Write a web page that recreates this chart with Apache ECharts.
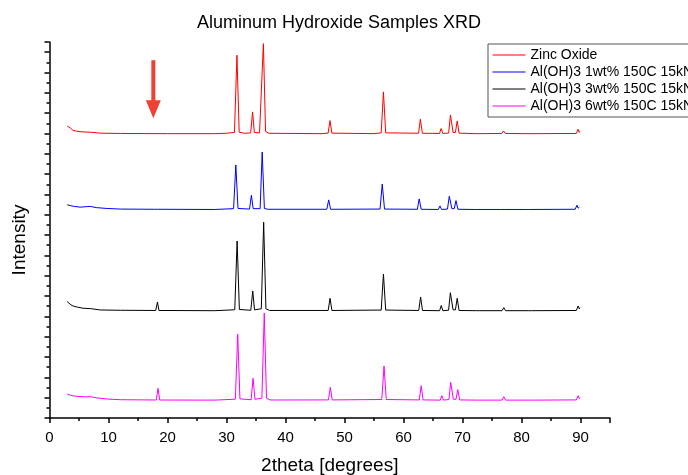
<!DOCTYPE html>
<html>
<head>
<meta charset="utf-8">
<script src="https://cdn.jsdelivr.net/npm/echarts@6/dist/echarts.min.js"></script>
<style>
  html, body { margin: 0; padding: 0; background: #fff; }
  #chart { width: 688px; height: 475px; }
</style>
</head>
<body>
<div id="chart"></div>
<script>
// XRD patterns, stacked with vertical offsets (arbitrary intensity units).
const seriesNames = [
  'Zinc Oxide',
  'Al(OH)3 1wt% 150C 15kN',
  'Al(OH)3 3wt% 150C 15kN',
  'Al(OH)3 6wt% 150C 15kN'
];
const seriesColors = ['#ff0000', '#0000ff', '#000000', '#ff00ff'];

const xTicks = [0, 10, 20, 30, 40, 50, 60, 70, 80, 90];

// [2theta, intensity]
const zincOxide = [
  [3.0,28.74],[3.3,28.62],[3.6,28.5],[4.0,28.3],[4.6,28.22],[5.7,28.15],[7.0,28.12],[8.6,28.03],
  [12,28.0],[20,27.98],[28,27.98],[30,28.02],
  [31.35,28.1],[31.77,35.7],[32.15,28.12],
  [33.0,28.02],[34.1,28.06],[34.42,30.12],[34.72,28.1],
  [35.6,28.05],[35.88,28.2],[36.25,36.84],[36.62,28.2],[37.2,28.02],
  [46,27.98],[47.22,28.03],[47.54,29.26],[47.86,28.03],
  [55,27.98],[56.22,28.06],[56.6,32.09],[56.98,28.06],
  [62.55,28.02],[62.86,29.4],[63.2,28.02],
  [66.1,28.0],[66.38,28.49],[66.66,28.0],
  [67.65,28.04],[67.96,29.82],[68.4,28.1],[68.8,28.1],[69.1,29.23],[69.42,28.03],
  [72.3,27.98],[72.56,28.1],[72.8,27.98],
  [76.65,28.0],[76.95,28.25],[77.25,28.0],
  [81.1,27.98],[81.37,28.1],[81.6,27.98],
  [89.3,28.0],[89.6,28.41],[89.8,28.1],[89.9,28.2]
];

const alOH3_1wt = [
  [3.0,20.99],[3.5,20.9],[4.2,20.82],[5.2,20.75],[6.3,20.8],[6.9,20.82],[8.0,20.7],[9.7,20.62],
  [12,20.56],[17.8,20.54],[18.1,20.73],[18.35,20.54],[28,20.52],
  [31.2,20.6],[31.58,24.9],[31.95,20.62],
  [33.9,20.56],[34.22,21.92],[34.52,20.6],
  [35.7,20.6],[36.05,26.18],[36.42,20.62],[37,20.54],
  [47.0,20.54],[47.32,21.46],[47.64,20.54],
  [56.02,20.56],[56.4,23.03],[56.78,20.56],
  [62.35,20.54],[62.66,21.56],[63.0,20.54],
  [65.9,20.52],[66.18,20.87],[66.46,20.52],
  [67.45,20.56],[67.76,21.82],[68.2,20.6],[68.6,20.6],[68.9,21.39],[69.22,20.54],
  [72.1,20.52],[72.36,20.6],[72.6,20.52],
  [76.45,20.52],[76.75,20.7],[77.05,20.52],
  [80.9,20.52],[81.17,20.58],[81.4,20.52],
  [89.1,20.54],[89.4,20.94],[89.6,20.65],[89.8,20.72]
];

const alOH3_3wt = [
  [3.0,11.45],[3.3,11.3],[3.6,11.15],[4.0,11.02],[4.8,10.9],[5.7,10.8],[7.0,10.76],[8.6,10.63],
  [12,10.6],[18.0,10.58],[18.3,11.42],[18.55,10.58],[28,10.56],
  [31.4,10.65],[31.8,17.42],[32.18,10.68],
  [34.12,10.6],[34.45,12.5],[34.75,10.64],
  [35.9,10.75],[36.3,19.26],[36.68,10.75],[37.3,10.58],
  [47.23,10.58],[47.55,11.78],[47.87,10.58],
  [56.22,10.62],[56.6,14.17],[56.98,10.62],
  [62.58,10.58],[62.9,11.91],[63.22,10.58],
  [66.12,10.56],[66.4,11.07],[66.68,10.56],
  [67.64,10.6],[67.95,12.33],[68.4,10.65],[68.8,10.64],[69.1,11.78],[69.42,10.58],
  [72.35,10.56],[72.6,10.68],[72.85,10.56],
  [76.7,10.56],[77.0,10.86],[77.3,10.56],
  [81.15,10.56],[81.4,10.66],[81.65,10.56],
  [89.3,10.58],[89.6,11.02],[89.8,10.75],[89.9,10.85]
];

const alOH3_6wt = [
  [3.0,2.36],[3.4,2.28],[4.0,2.17],[5.0,2.12],[6.0,2.08],[6.9,2.1],[8.0,1.98],[9.7,1.87],
  [12,1.8],[18.1,1.77],[18.4,2.92],[18.68,1.77],[28,1.76],
  [31.5,1.85],[31.9,8.24],[32.28,1.88],
  [34.18,1.8],[34.5,3.91],[34.82,1.84],
  [36.0,1.95],[36.4,10.33],[36.78,1.95],[37.4,1.77],
  [47.28,1.78],[47.6,3.02],[47.92,1.78],
  [56.32,1.82],[56.7,5.12],[57.08,1.82],
  [62.68,1.78],[63.0,3.18],[63.32,1.78],
  [66.22,1.76],[66.5,2.19],[66.78,1.76],
  [67.7,1.82],[68.0,3.51],[68.45,1.85],[68.9,1.84],[69.2,2.79],[69.52,1.78],
  [72.35,1.76],[72.6,1.87],[72.85,1.76],
  [76.7,1.76],[77.0,2.1],[77.3,1.76],
  [81.15,1.76],[81.4,1.82],[81.65,1.76],
  [89.3,1.78],[89.6,2.19],[89.8,1.9],[89.9,2.0]
];

// Annotation arrow: from (2theta, top) down to the tip.
const arrowFrom = [17.6, 35.2];
const arrowTo = [17.6, 29.5];

const patterns = [zincOxide, alOH3_1wt, alOH3_3wt, alOH3_6wt];

const chart = echarts.init(document.getElementById('chart'), null, { renderer: 'canvas' });
const FONT = '"Liberation Sans", Arial, sans-serif';

const lineSeries = patterns.map((data, i) => ({
  name: seriesNames[i],
  type: 'line',
  data: data,
  symbol: 'none',
  showSymbol: false,
  smooth: false,
  lineStyle: { color: seriesColors[i], width: 1 },
  itemStyle: { color: seriesColors[i] },
  z: 5 - i
}));

const arrowSeries = {
  type: 'custom',
  name: 'arrow',
  data: [[arrowFrom[0], arrowFrom[1], arrowTo[0], arrowTo[1]]],
  silent: true,
  z: 10,
  renderItem: function (params, api) {
    const p0 = api.coord([api.value(0), api.value(1)]);
    const p1 = api.coord([api.value(2), api.value(3)]);
    const shaftHalf = 2;
    const headHalf = 7.5;
    const headLen = 18;
    const cx = p0[0];
    const headTop = p1[1] - headLen;
    return {
      type: 'polygon',
      shape: {
        points: [
          [cx - shaftHalf, p0[1]],
          [cx + shaftHalf, p0[1]],
          [cx + shaftHalf, headTop],
          [cx + headHalf, headTop],
          [cx, p1[1]],
          [cx - headHalf, headTop],
          [cx - shaftHalf, headTop]
        ]
      },
      style: { fill: '#ee4035' }
    };
  }
};

chart.setOption({
  animation: false,
  backgroundColor: '#ffffff',
  title: {
    text: 'Aluminum Hydroxide Samples XRD',
    left: 192,
    top: 9,
    textStyle: { fontFamily: FONT, fontSize: 18, fontWeight: 'normal', color: '#000' }
  },
  legend: {
    data: seriesNames,
    orient: 'vertical',
    left: 488,
    top: 44,
    itemWidth: 33,
    itemHeight: 14,
    itemGap: 3,
    padding: [4, 6, 4, 4],
    borderColor: '#555',
    borderWidth: 1,
    backgroundColor: '#fff',
    itemStyle: { opacity: 0 },
    lineStyle: { width: 1 },
    textStyle: { fontFamily: FONT, fontSize: 14, color: '#000', padding: [0, 0, 0, 0] }
  },
  grid: {
    left: 49.5, right: 78, top: 42, bottom: 57,
    containLabel: false,
    outerBoundsMode: 'none'
  },
  xAxis: {
    type: 'value',
    min: 0,
    max: 95,
    interval: 10,
    name: '2theta [degrees]',
    nameLocation: 'middle',
    nameGap: 38,
    nameTextStyle: { fontFamily: FONT, fontSize: 19, color: '#000' },
    axisLine: { show: true, lineStyle: { color: '#000', width: 1.5 } },
    axisTick: { show: true, inside: false, length: 5, lineStyle: { color: '#000', width: 1.5 } },
    minorTick: { show: true, splitNumber: 2, length: 3, lineStyle: { color: '#000', width: 1.5 } },
    axisLabel: {
      fontFamily: FONT, fontSize: 15, color: '#000', margin: 12,
      showMaxLabel: false,
      formatter: function (v) { return xTicks.indexOf(v) >= 0 ? String(v) : ''; }
    },
    splitLine: { show: false },
    minorSplitLine: { show: false }
  },
  yAxis: {
    type: 'value',
    min: 0,
    max: 37,
    interval: 2,
    name: 'Intensity',
    nameLocation: 'middle',
    nameGap: 20,
    nameTextStyle: { fontFamily: FONT, fontSize: 19, color: '#000', padding: [0, 20, 0, 0] },
    axisLine: { show: true, lineStyle: { color: '#000', width: 1.5 } },
    axisTick: { show: true, inside: false, length: 5, lineStyle: { color: '#000', width: 1.5 } },
    minorTick: { show: true, splitNumber: 2, length: 3, lineStyle: { color: '#000', width: 1.5 } },
    axisLabel: { show: false },
    splitLine: { show: false },
    minorSplitLine: { show: false }
  },
  series: lineSeries.concat([arrowSeries])
});
</script>
</body>
</html>
